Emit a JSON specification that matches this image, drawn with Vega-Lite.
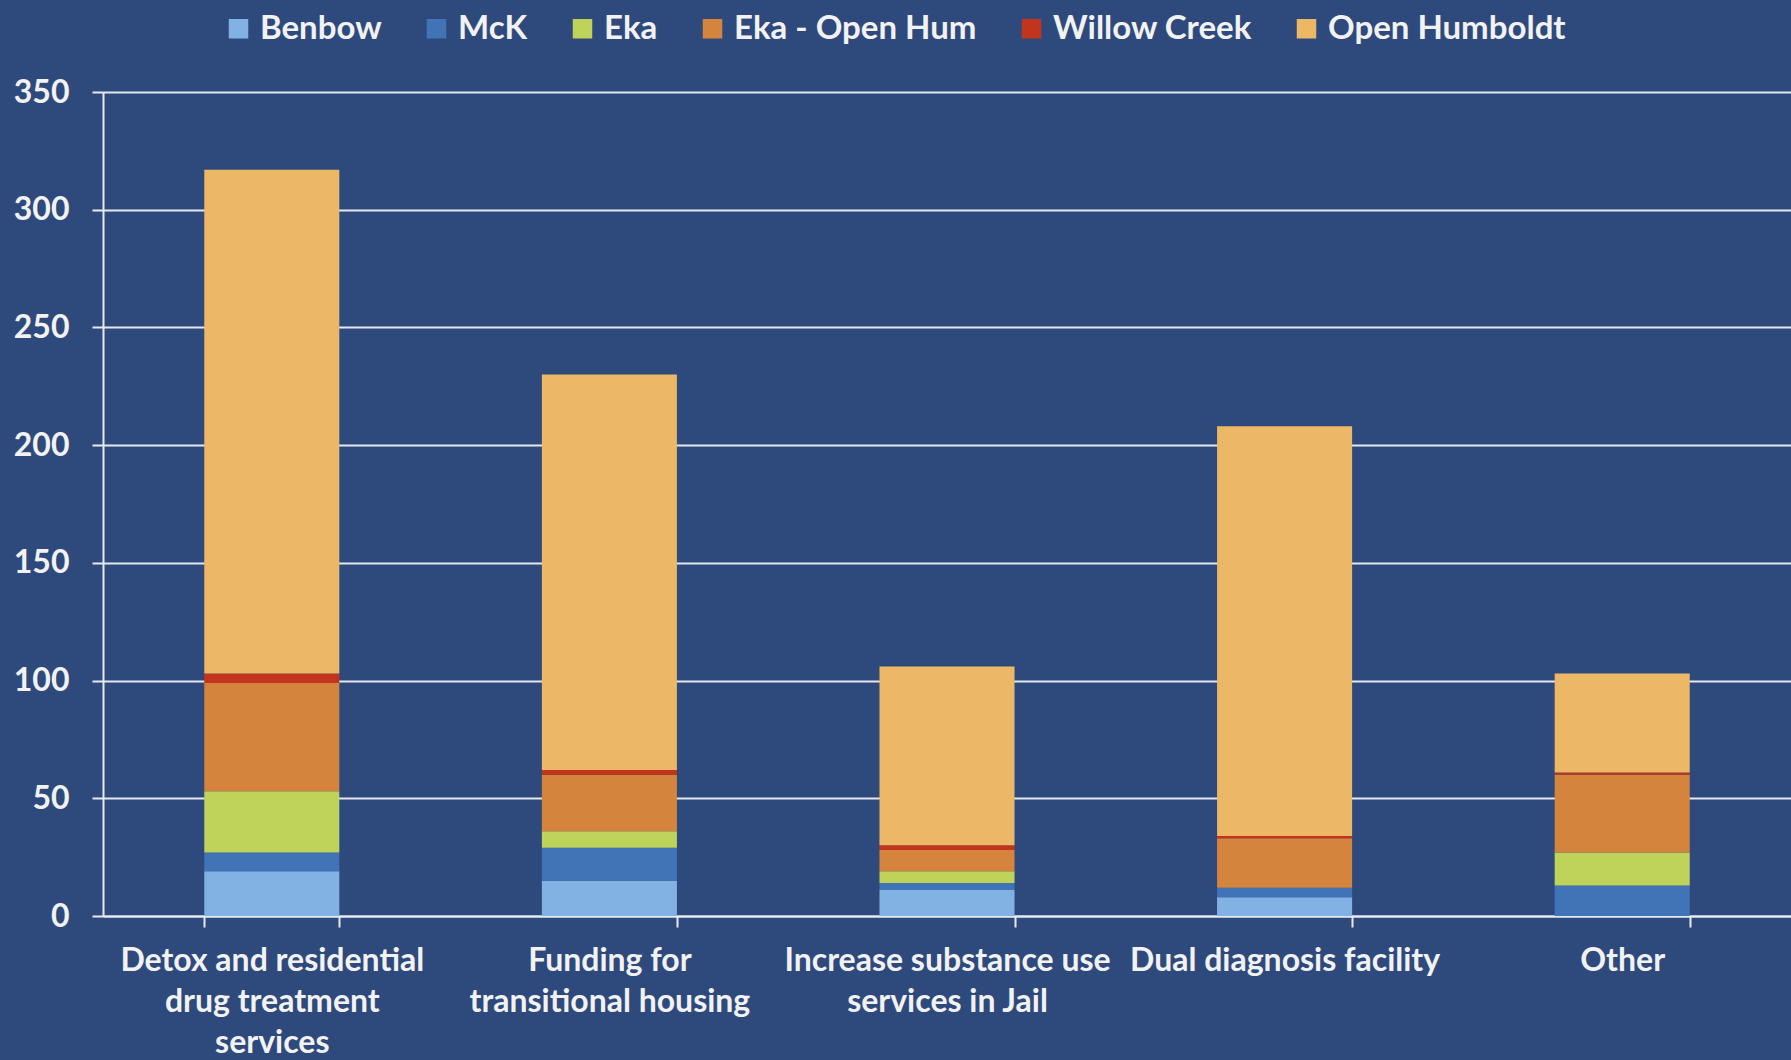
{
  "$schema": "https://vega.github.io/schema/vega-lite/v6.json",
  "width": 1688,
  "height": 824,
  "autosize": "none",
  "padding": {"left": 103, "top": 92, "right": 0, "bottom": 144},
  "background": "#2e4a7d",
  "config": {"view": {"stroke": null}, "font": "Lato"},
  "data": {"values": [
    {"category": "Detox and residential drug treatment services", "location": "Benbow", "count": 19},
    {"category": "Detox and residential drug treatment services", "location": "McK", "count": 8},
    {"category": "Detox and residential drug treatment services", "location": "Eka", "count": 26},
    {"category": "Detox and residential drug treatment services", "location": "Eka - Open Hum", "count": 46},
    {"category": "Detox and residential drug treatment services", "location": "Willow Creek", "count": 4},
    {"category": "Detox and residential drug treatment services", "location": "Open Humboldt", "count": 214},
    {"category": "Funding for transitional housing", "location": "Benbow", "count": 15},
    {"category": "Funding for transitional housing", "location": "McK", "count": 14},
    {"category": "Funding for transitional housing", "location": "Eka", "count": 7},
    {"category": "Funding for transitional housing", "location": "Eka - Open Hum", "count": 24},
    {"category": "Funding for transitional housing", "location": "Willow Creek", "count": 2},
    {"category": "Funding for transitional housing", "location": "Open Humboldt", "count": 168},
    {"category": "Increase substance use services in Jail", "location": "Benbow", "count": 11},
    {"category": "Increase substance use services in Jail", "location": "McK", "count": 3},
    {"category": "Increase substance use services in Jail", "location": "Eka", "count": 5},
    {"category": "Increase substance use services in Jail", "location": "Eka - Open Hum", "count": 9},
    {"category": "Increase substance use services in Jail", "location": "Willow Creek", "count": 2},
    {"category": "Increase substance use services in Jail", "location": "Open Humboldt", "count": 76},
    {"category": "Dual diagnosis facility", "location": "Benbow", "count": 8},
    {"category": "Dual diagnosis facility", "location": "McK", "count": 4},
    {"category": "Dual diagnosis facility", "location": "Eka", "count": 0},
    {"category": "Dual diagnosis facility", "location": "Eka - Open Hum", "count": 21},
    {"category": "Dual diagnosis facility", "location": "Willow Creek", "count": 1},
    {"category": "Dual diagnosis facility", "location": "Open Humboldt", "count": 174},
    {"category": "Other", "location": "Benbow", "count": 0},
    {"category": "Other", "location": "McK", "count": 13},
    {"category": "Other", "location": "Eka", "count": 14},
    {"category": "Other", "location": "Eka - Open Hum", "count": 33},
    {"category": "Other", "location": "Willow Creek", "count": 1},
    {"category": "Other", "location": "Open Humboldt", "count": 42}
  ]},
  "transform": [
    {"calculate": "indexof(['Benbow','McK','Eka','Eka - Open Hum','Willow Creek','Open Humboldt'], datum.location)", "as": "k"}
  ],
  "mark": {"type": "bar"},
  "encoding": {
    "x": {
      "field": "category", "type": "nominal", "sort": null,
      "scale": {"paddingInner": 0.6, "paddingOuter": 0.3},
      "axis": {
        "title": null, "labelAngle": 0,
        "labelExpr": "datum.label == 'Detox and residential drug treatment services' ? ['Detox and residential','drug treatment','services'] : datum.label == 'Funding for transitional housing' ? ['Funding for','transitional housing'] : datum.label == 'Increase substance use services in Jail' ? ['Increase substance use','services in Jail'] : datum.label",
        "labelColor": "#f2f2f2", "labelFont": "Lato", "labelFontWeight": "bold", "labelFontSize": 32,
        "labelLineHeight": 41, "labelBaseline": "top", "labelPadding": 18, "labelLimit": 400,
        "domainColor": "#e6eaf2", "domainWidth": 2,
        "ticks": true, "tickBand": "extent", "tickColor": "#e6eaf2", "tickWidth": 2, "tickSize": 11
      }
    },
    "y": {
      "field": "count", "type": "quantitative", "stack": "zero",
      "scale": {"domain": [0, 350]},
      "axis": {
        "title": null, "values": [0, 50, 100, 150, 200, 250, 300, 350],
        "labelColor": "#f2f2f2", "labelFont": "Lato", "labelFontWeight": "bold", "labelFontSize": 32,
        "labelPadding": 23,
        "domainColor": "#e6eaf2", "domainWidth": 2,
        "tickColor": "#e6eaf2", "tickWidth": 2, "tickSize": 11,
        "grid": true, "gridColor": "#e3e8f0", "gridWidth": 2
      }
    },
    "color": {
      "field": "location", "type": "nominal",
      "scale": {
        "domain": ["Benbow", "McK", "Eka", "Eka - Open Hum", "Willow Creek", "Open Humboldt"],
        "range": ["#82b2e3", "#4074b7", "#bfd25a", "#d4843d", "#c2341b", "#ecb866"]
      },
      "legend": {
        "title": null, "orient": "none", "legendX": 119, "legendY": -80,
        "direction": "horizontal", "columns": 6,
        "symbolType": "square", "symbolSize": 380, "symbolStrokeWidth": 0,
        "labelColor": "#f2f2f2", "labelFont": "Lato", "labelFontWeight": "bold", "labelFontSize": 33,
        "labelOffset": 5, "columnPadding": 38, "labelLimit": 400
      }
    },
    "order": {"field": "k", "type": "quantitative"}
  }
}
